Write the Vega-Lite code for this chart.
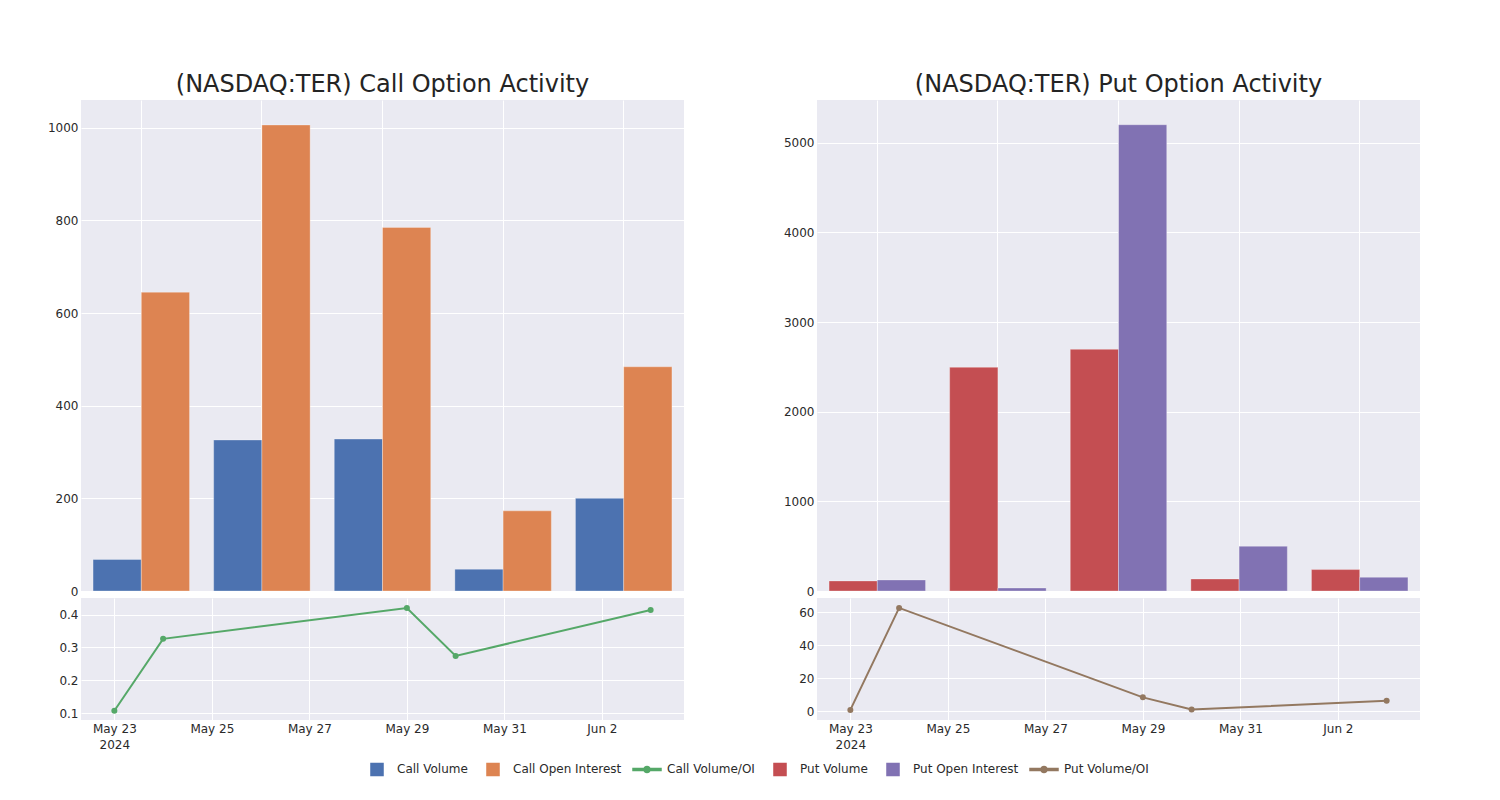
{
  "$schema": "https://vega.github.io/schema/vega-lite/v6.json",
  "padding": {"left": 47, "top": 73, "right": 0, "bottom": 0},
  "background": "white",
  "datasets": {
    "callBars": [
      {"slot": "2024-05-23", "series": "Call Volume", "value": 68},
      {"slot": "2024-05-23", "series": "Call Open Interest", "value": 645},
      {"slot": "2024-05-24", "series": "Call Volume", "value": 326},
      {"slot": "2024-05-24", "series": "Call Open Interest", "value": 1006},
      {"slot": "2024-05-29", "series": "Call Volume", "value": 328},
      {"slot": "2024-05-29", "series": "Call Open Interest", "value": 785},
      {"slot": "2024-05-30", "series": "Call Volume", "value": 47},
      {"slot": "2024-05-30", "series": "Call Open Interest", "value": 173},
      {"slot": "2024-06-03", "series": "Call Volume", "value": 200},
      {"slot": "2024-06-03", "series": "Call Open Interest", "value": 484}
    ],
    "putBars": [
      {"slot": "2024-05-23", "series": "Put Volume", "value": 112},
      {"slot": "2024-05-23", "series": "Put Open Interest", "value": 123},
      {"slot": "2024-05-24", "series": "Put Volume", "value": 2495},
      {"slot": "2024-05-24", "series": "Put Open Interest", "value": 33},
      {"slot": "2024-05-29", "series": "Put Volume", "value": 2695},
      {"slot": "2024-05-29", "series": "Put Open Interest", "value": 5200},
      {"slot": "2024-05-30", "series": "Put Volume", "value": 134},
      {"slot": "2024-05-30", "series": "Put Open Interest", "value": 499},
      {"slot": "2024-06-03", "series": "Put Volume", "value": 239},
      {"slot": "2024-06-03", "series": "Put Open Interest", "value": 153}
    ],
    "callRatio": [
      {"date": "2024-05-23T00:00:00", "series": "Call Volume/OI", "value": 0.107},
      {"date": "2024-05-24T00:00:00", "series": "Call Volume/OI", "value": 0.326},
      {"date": "2024-05-29T00:00:00", "series": "Call Volume/OI", "value": 0.42},
      {"date": "2024-05-30T00:00:00", "series": "Call Volume/OI", "value": 0.274},
      {"date": "2024-06-03T00:00:00", "series": "Call Volume/OI", "value": 0.414}
    ],
    "putRatio": [
      {"date": "2024-05-23T00:00:00", "series": "Put Volume/OI", "value": 0.9},
      {"date": "2024-05-24T00:00:00", "series": "Put Volume/OI", "value": 62.6},
      {"date": "2024-05-29T00:00:00", "series": "Put Volume/OI", "value": 8.5},
      {"date": "2024-05-30T00:00:00", "series": "Put Volume/OI", "value": 1.2},
      {"date": "2024-06-03T00:00:00", "series": "Put Volume/OI", "value": 6.4}
    ]
  },
  "config": {
    "font": "DejaVu Sans",
    "view": {"fill": "#EAEAF2", "stroke": null},
    "axis": {
      "domain": false, "ticks": false, "gridColor": "white", "gridWidth": 1, "gridOpacity": 1,
      "labelFont": "DejaVu Sans", "labelFontSize": 12, "labelColor": "#2a2a2a", "labelPadding": 3, "title": null
    },
    "title": {"font": "DejaVu Sans", "fontSize": 24, "fontWeight": "normal", "color": "#242424", "anchor": "middle", "frame": "group", "offset": 3},
    "legend": {"labelFont": "DejaVu Sans", "labelFontSize": 12, "labelColor": "#2a2a2a"}
  },
  "spacing": 99,
  "hconcat": [
    {
      "spacing": 1,
      "vconcat": [
        {
          "title": "(NASDAQ:TER) Call Option Activity",
          "width": 603, "height": 491,
          "data": {"name": "callBars"},
          "mark": {"type": "bar", "stroke": "white", "strokeWidth": 0.5, "strokeOpacity": 0.6},
          "encoding": {
            "x": {"field": "slot", "type": "nominal", "scale": {"paddingInner": 0.2, "paddingOuter": 0.1},
                  "axis": {"labels": false, "ticks": false, "grid": true, "bandPosition": 0.5}},
            "xOffset": {"field": "series", "type": "nominal", "sort": ["Call Volume", "Call Open Interest"], "scale": {"paddingInner": 0, "paddingOuter": 0}},
            "y": {"field": "value", "type": "quantitative", "scale": {"domain": [0, 1060], "nice": false},
                  "axis": {"values": [0, 200, 400, 600, 800, 1000], "format": "d"}},
            "color": {"field": "series", "type": "nominal",
              "scale": {"domain": ["Call Volume", "Call Open Interest", "Call Volume/OI", "Put Volume", "Put Open Interest", "Put Volume/OI"],
                        "range": ["#4C72B0", "#DD8452", "#55A868", "#C44E52", "#8172B3", "#937860"]},
              "legend": {
                "title": null, "orient": "none", "direction": "horizontal", "legendX": 281, "legendY": 654,
                "columns": 6, "columnPadding": 8, "symbolSize": 784, "labelOffset": 5,
                "encode": {"symbols": {"update": {
                  "shape": {"signal": "(datum.value == 'Call Volume/OI' || datum.value == 'Put Volume/OI') ? 'M-1,-0.43 M-1,-0.07L1,-0.07L1,0.07L-1,0.07Z M0.22,0A0.22,0.22 0 1,1 -0.22,0A0.22,0.22 0 1,1 0.22,0Z M1,0.43' : 'M-1,-0.43 M-0.43,-0.43L0.43,-0.43L0.43,0.43L-0.43,0.43Z M1,0.43'"},
                  "fill": {"scale": "color", "field": "value"},
                  "stroke": {"value": "transparent"},
                  "opacity": {"value": 1}
                }}}
              }
            }
          }
        },
        {
          "width": 603, "height": 122,
          "data": {"name": "callRatio"},
          "mark": {"type": "line", "strokeWidth": 2, "point": {"filled": true, "size": 36}},
          "encoding": {
            "x": {"field": "date", "type": "temporal",
                  "scale": {"domain": [{"year": 2024, "month": "may", "date": 22, "hours": 7, "minutes": 35}, {"year": 2024, "month": "jun", "date": 3, "hours": 16, "minutes": 25}]},
                  "axis": {"grid": true, "labelLineHeight": 16,
                    "values": [{"year": 2024, "month": "may", "date": 23}, {"year": 2024, "month": "may", "date": 25}, {"year": 2024, "month": "may", "date": 27}, {"year": 2024, "month": "may", "date": 29}, {"year": 2024, "month": "may", "date": 31}, {"year": 2024, "month": "jun", "date": 2}],
                    "labelExpr": "datum.index == 0 ? [timeFormat(datum.value, '%b %-d'), '2024'] : timeFormat(datum.value, '%b %-d')"}},
            "y": {"field": "value", "type": "quantitative", "scale": {"domain": [0.0788, 0.4505], "nice": false, "zero": false},
                  "axis": {"values": [0.1, 0.2, 0.3, 0.4], "format": ".1f"}},
            "color": {"field": "series", "type": "nominal",
              "legend": {
                "title": null, "orient": "none", "direction": "horizontal", "legendX": 281, "legendY": 654,
                "columns": 6, "columnPadding": 8, "symbolSize": 784, "labelOffset": 5,
                "encode": {"symbols": {"update": {
                  "shape": {"signal": "(datum.value == 'Call Volume/OI' || datum.value == 'Put Volume/OI') ? 'M-1,-0.43 M-1,-0.07L1,-0.07L1,0.07L-1,0.07Z M0.22,0A0.22,0.22 0 1,1 -0.22,0A0.22,0.22 0 1,1 0.22,0Z M1,0.43' : 'M-1,-0.43 M-0.43,-0.43L0.43,-0.43L0.43,0.43L-0.43,0.43Z M1,0.43'"},
                  "fill": {"scale": "color", "field": "value"},
                  "stroke": {"value": "transparent"},
                  "opacity": {"value": 1}
                }}}
              }}
          }
        }
      ]
    },
    {
      "spacing": 1,
      "vconcat": [
        {
          "title": "(NASDAQ:TER) Put Option Activity",
          "width": 603, "height": 491,
          "data": {"name": "putBars"},
          "mark": {"type": "bar", "stroke": "white", "strokeWidth": 0.5, "strokeOpacity": 0.6},
          "encoding": {
            "x": {"field": "slot", "type": "nominal", "scale": {"paddingInner": 0.2, "paddingOuter": 0.1},
                  "axis": {"labels": false, "ticks": false, "grid": true, "bandPosition": 0.5}},
            "xOffset": {"field": "series", "type": "nominal", "sort": ["Put Volume", "Put Open Interest"], "scale": {"paddingInner": 0, "paddingOuter": 0}},
            "y": {"field": "value", "type": "quantitative", "scale": {"domain": [0, 5476], "nice": false},
                  "axis": {"values": [0, 1000, 2000, 3000, 4000, 5000], "format": "d"}},
            "color": {"field": "series", "type": "nominal",
              "legend": {
                "title": null, "orient": "none", "direction": "horizontal", "legendX": 281, "legendY": 654,
                "columns": 6, "columnPadding": 8, "symbolSize": 784, "labelOffset": 5,
                "encode": {"symbols": {"update": {
                  "shape": {"signal": "(datum.value == 'Call Volume/OI' || datum.value == 'Put Volume/OI') ? 'M-1,-0.43 M-1,-0.07L1,-0.07L1,0.07L-1,0.07Z M0.22,0A0.22,0.22 0 1,1 -0.22,0A0.22,0.22 0 1,1 0.22,0Z M1,0.43' : 'M-1,-0.43 M-0.43,-0.43L0.43,-0.43L0.43,0.43L-0.43,0.43Z M1,0.43'"},
                  "fill": {"scale": "color", "field": "value"},
                  "stroke": {"value": "transparent"},
                  "opacity": {"value": 1}
                }}}
              }}
          }
        },
        {
          "width": 603, "height": 122,
          "data": {"name": "putRatio"},
          "mark": {"type": "line", "strokeWidth": 2, "point": {"filled": true, "size": 36}},
          "encoding": {
            "x": {"field": "date", "type": "temporal",
                  "scale": {"domain": [{"year": 2024, "month": "may", "date": 22, "hours": 7, "minutes": 35}, {"year": 2024, "month": "jun", "date": 3, "hours": 16, "minutes": 25}]},
                  "axis": {"grid": true, "labelLineHeight": 16,
                    "values": [{"year": 2024, "month": "may", "date": 23}, {"year": 2024, "month": "may", "date": 25}, {"year": 2024, "month": "may", "date": 27}, {"year": 2024, "month": "may", "date": 29}, {"year": 2024, "month": "may", "date": 31}, {"year": 2024, "month": "jun", "date": 2}],
                    "labelExpr": "datum.index == 0 ? [timeFormat(datum.value, '%b %-d'), '2024'] : timeFormat(datum.value, '%b %-d')"}},
            "y": {"field": "value", "type": "quantitative", "scale": {"domain": [-5.2, 68.6], "nice": false, "zero": false},
                  "axis": {"values": [0, 20, 40, 60]}},
            "color": {"field": "series", "type": "nominal",
              "legend": {
                "title": null, "orient": "none", "direction": "horizontal", "legendX": 281, "legendY": 654,
                "columns": 6, "columnPadding": 8, "symbolSize": 784, "labelOffset": 5,
                "encode": {"symbols": {"update": {
                  "shape": {"signal": "(datum.value == 'Call Volume/OI' || datum.value == 'Put Volume/OI') ? 'M-1,-0.43 M-1,-0.07L1,-0.07L1,0.07L-1,0.07Z M0.22,0A0.22,0.22 0 1,1 -0.22,0A0.22,0.22 0 1,1 0.22,0Z M1,0.43' : 'M-1,-0.43 M-0.43,-0.43L0.43,-0.43L0.43,0.43L-0.43,0.43Z M1,0.43'"},
                  "fill": {"scale": "color", "field": "value"},
                  "stroke": {"value": "transparent"},
                  "opacity": {"value": 1}
                }}}
              }}
          }
        }
      ]
    }
  ],
  "resolve": {"scale": {"x": "independent", "y": "independent", "xOffset": "independent"}}
}
